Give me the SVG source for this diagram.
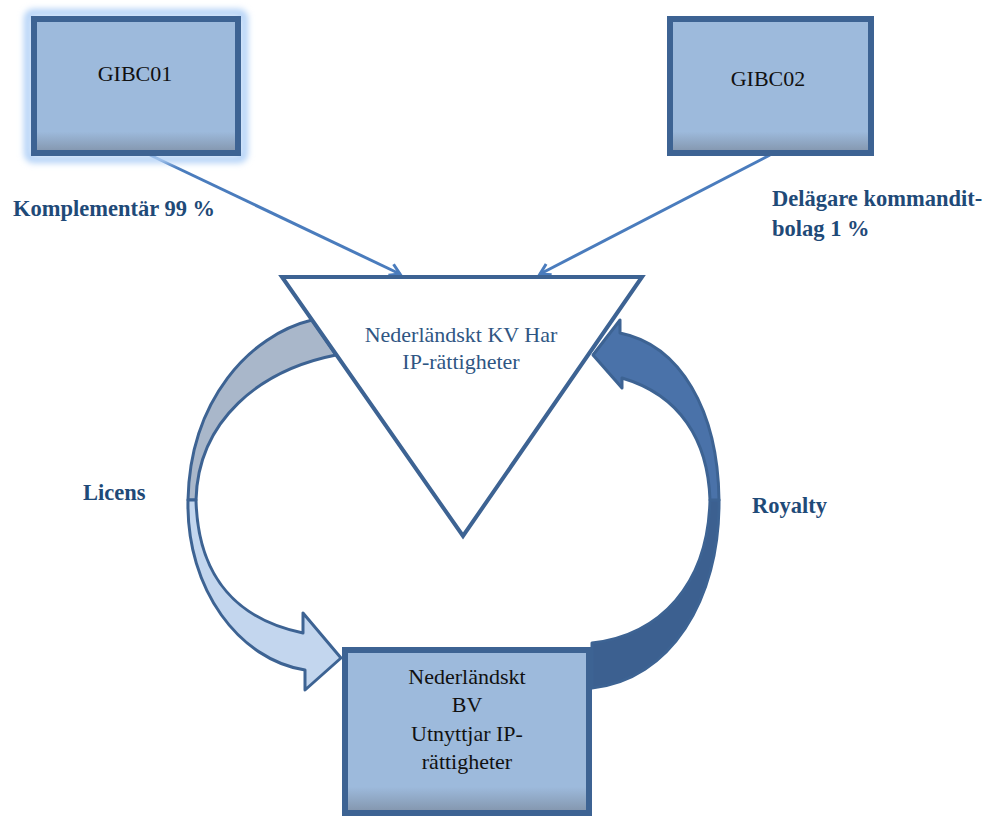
<svg xmlns="http://www.w3.org/2000/svg" width="986" height="820" viewBox="0 0 986 820">
<defs>
<style>
.box{fill:url(#boxg);stroke:#3d6393;stroke-width:6}
.btxt{font-family:"Liberation Serif","DejaVu Serif",serif;font-size:22px;fill:#111;text-anchor:middle}
.ttxt{font-family:"Liberation Serif","DejaVu Serif",serif;font-size:22px;fill:#2f5683;text-anchor:middle}
.lbl{font-family:"Liberation Serif","DejaVu Serif",serif;font-size:22.5px;font-weight:bold;fill:#1f4a78}
.conn{stroke:#4a7cbd;stroke-width:3;fill:none;marker-end:url(#chev)}
.band{stroke:#3d6393;stroke-width:3;stroke-linejoin:round}
</style>
<linearGradient id="boxg" x1="0" y1="0" x2="0" y2="1">
<stop offset="0" stop-color="#9dbadc"/>
<stop offset="0.84" stop-color="#9dbadc"/>
<stop offset="1" stop-color="#8294ab"/>
</linearGradient>
<filter id="glow" x="-20%" y="-20%" width="140%" height="140%">
<feGaussianBlur stdDeviation="3"/>
</filter>
<marker id="chev" markerWidth="16" markerHeight="16" refX="13" refY="8" orient="auto" markerUnits="userSpaceOnUse">
<path d="M3,2 L13,8 L3,14" fill="none" stroke="#4a7cbd" stroke-width="3"/>
</marker>
</defs>

<g id="connectors">
<line class="conn" x1="150" y1="155" x2="400" y2="274"/>
<line class="conn" x1="770" y1="155" x2="540" y2="274"/>
</g>

<g id="licens-arrow">
<path class="band" fill="#a9b7ca" d="M312,320 C250,335 190,400 188,500 L196,500 C198,420 260,370 336,355 Z"/>
<path class="band" fill="#c3d6ee" d="M188,500 C186,590 240,660 305,670 L305,690 L341,658 L303,613 L303,633 C240,620 198,580 196,500 Z"/>
</g>

<g id="royalty-arrow">
<path class="band" fill="#3c6090" stroke="#3a5e8e" d="M592,643 C660,635 708,585 710,500 L719,500 C720,600 670,680 592,688 Z"/>
<path class="band" fill="#4a72a9" stroke="#4a72a9" d="M710,500 C708,440 680,395 622,378 L622,388 L593,355 L620,320 L620,333 C680,345 718,410 719,500 Z"/>
</g>

<g id="gibc01">
<rect x="28" y="13" width="216" height="146" rx="5" fill="none" stroke="#b3d2f7" stroke-width="8" filter="url(#glow)"/>
<rect class="box" x="34" y="19" width="204" height="134"/>
<text class="btxt" x="135" y="81">GIBC01</text>
</g>

<g id="gibc02">
<rect class="box" x="670" y="19" width="201" height="134"/>
<text class="btxt" x="768" y="86">GIBC02</text>
</g>

<g id="kv">
<polygon points="282,277 642,277 463,536" fill="#ffffff" stroke="#3d6393" stroke-width="4" stroke-linejoin="miter"/>
<text class="ttxt" x="461" y="342">Nederländskt KV Har</text>
<text class="ttxt" x="461" y="369">IP-rättigheter</text>
</g>

<g id="bv">
<rect class="box" x="345" y="650" width="244" height="163"/>
<text class="btxt" x="467" y="684">Nederländskt</text>
<text class="btxt" x="467" y="712">BV</text>
<text class="btxt" x="467" y="741">Utnyttjar IP-</text>
<text class="btxt" x="467" y="769">rättigheter</text>
</g>

<g id="labels">
<text class="lbl" x="13" y="216">Komplementär 99 %</text>
<text class="lbl" x="772" y="206">Delägare kommandit-</text>
<text class="lbl" x="772" y="236">bolag 1 %</text>
<text class="lbl" x="83" y="500">Licens</text>
<text class="lbl" x="752" y="513">Royalty</text>
</g>
</svg>
